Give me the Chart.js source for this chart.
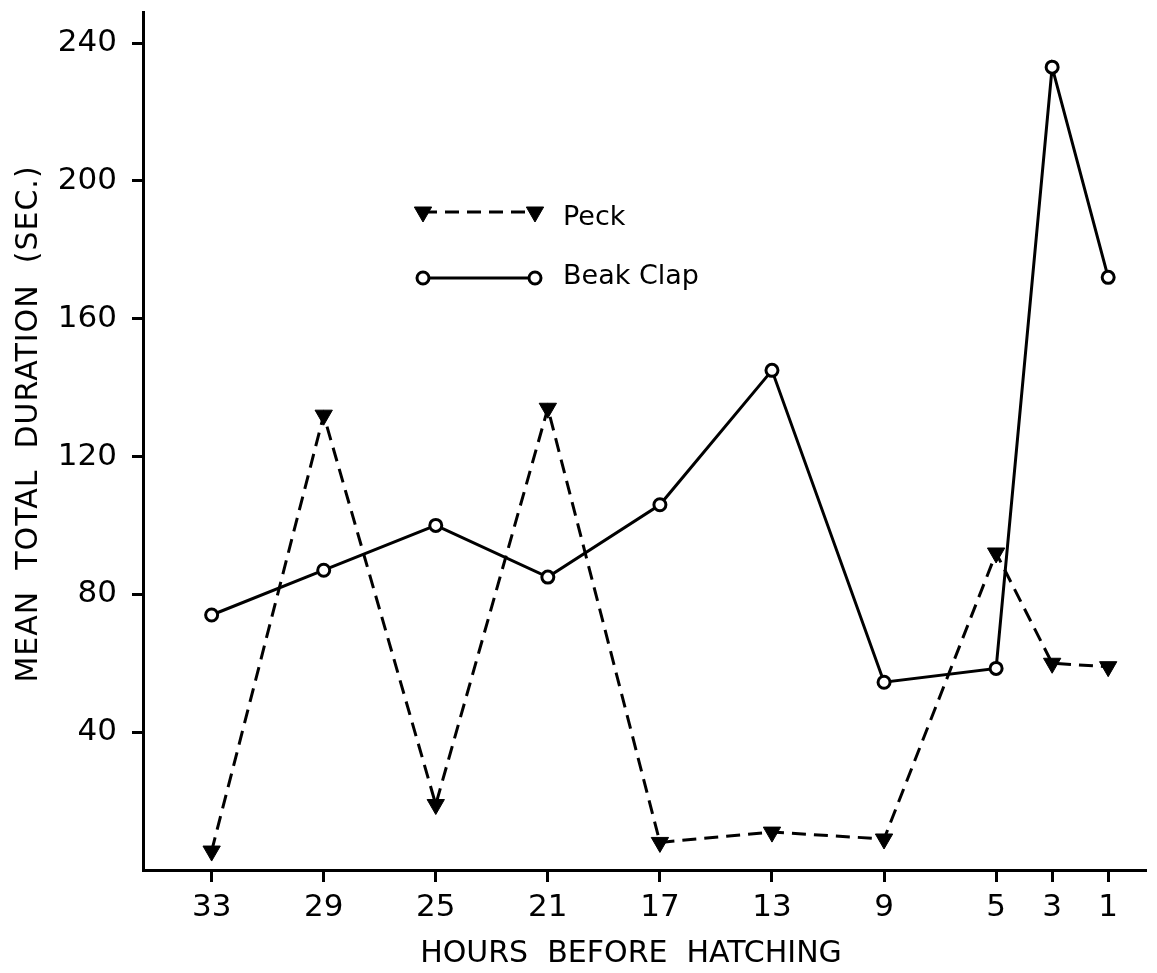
<!DOCTYPE html>
<html>
<head>
<meta charset="utf-8">
<script src="https://cdn.jsdelivr.net/npm/chart.js@4.4.1/dist/chart.umd.min.js"></script>
<style>
  html, body { margin: 0; padding: 0; background: #fff; }
  #wrap { width: 1157px; height: 973px; position: relative; }
</style>
</head>
<body>
<div id="wrap"><canvas id="c"></canvas></div>
<script>
// Hours before hatching (x positions are true hour values, axis runs 33 -> 1)
const hours = [33, 29, 25, 21, 17, 13, 9, 5, 3, 1];
// Mean total duration in seconds
const peck = [5.5, 132, 19, 134, 8, 11, 9, 92, 60, 59];
const beakClap = [74, 87, 100, 85, 106, 145, 54.5, 58.5, 233, 172];
// Labelled y ticks
const yTicks = [40, 80, 120, 160, 200, 240];
const seriesNames = ['Peck', 'Beak Clap'];
const xTitle = 'HOURS  BEFORE  HATCHING';
const yTitle = 'MEAN  TOTAL  DURATION  (SEC.)';

const FONT = '"DejaVu Sans", "Liberation Sans", sans-serif';
const INK = '#000';

function toPoints(values) {
  return hours.map((h, i) => ({ x: h, y: values[i] }));
}

// Axis titles and the inset key, drawn on top of the plot
const overlay = {
  id: 'overlay',
  afterDraw(chart) {
    const ctx = chart.ctx;
    ctx.save();
    ctx.fillStyle = INK;
    ctx.strokeStyle = INK;

    // axis titles
    ctx.font = '30px ' + FONT;
    ctx.textAlign = 'center';
    ctx.textBaseline = 'alphabetic';
    ctx.letterSpacing = '0px';
    ctx.fillText(xTitle, 631, 962);
    ctx.save();
    ctx.letterSpacing = '1px';
    ctx.translate(37, 424);
    ctx.rotate(-Math.PI / 2);
    ctx.fillText(yTitle, 0, 0);
    ctx.restore();

    // key: a short sample of each series with its markers
    const rows = [{ y: 212, base: 225 }, { y: 278, base: 284 }];
    chart.data.datasets.forEach((ds, i) => {
      const r = rows[i];
      const x0 = 423, x1 = 535;
      ctx.save();
      ctx.lineWidth = ds.borderWidth;
      ctx.setLineDash(ds.borderDash || []);
      ctx.beginPath();
      ctx.moveTo(x0, r.y);
      ctx.lineTo(x1, r.y);
      ctx.stroke();
      ctx.restore();
      [x0, x1].forEach(px => {
        ctx.save();
        ctx.fillStyle = ds.pointBackgroundColor;
        ctx.strokeStyle = ds.pointBorderColor;
        ctx.lineWidth = ds.pointBorderWidth;
        ctx.setLineDash([]);
        Chart.helpers.drawPoint(ctx, {
          pointStyle: ds.pointStyle,
          rotation: ds.pointRotation || 0,
          radius: ds.pointRadius,
          borderWidth: ds.pointBorderWidth
        }, px, r.y);
        ctx.restore();
      });
      ctx.font = '27px ' + FONT;
      ctx.textAlign = 'left';
      ctx.textBaseline = 'alphabetic';
      ctx.fillStyle = INK;
      ctx.fillText(ds.label, 563, r.base);
    });
    ctx.restore();
  }
};

const tickFont = { family: FONT, size: 31 };

new Chart(document.getElementById('c'), {
  type: 'line',
  data: {
    datasets: [
      {
        label: seriesNames[0],
        data: toPoints(peck),
        borderColor: INK,
        borderWidth: 3,
        borderDash: [14, 8],
        pointStyle: 'triangle',
        pointRotation: 180,
        pointRadius: 10,
        pointBackgroundColor: INK,
        pointBorderColor: INK,
        pointBorderWidth: 1,
        tension: 0,
        clip: false
      },
      {
        label: seriesNames[1],
        data: toPoints(beakClap),
        borderColor: INK,
        borderWidth: 3,
        pointStyle: 'circle',
        pointRadius: 6,
        pointBackgroundColor: '#fff',
        pointBorderColor: INK,
        pointBorderWidth: 3,
        tension: 0,
        clip: false
      }
    ]
  },
  options: {
    responsive: true,
    maintainAspectRatio: false,
    animation: false,
    layout: { padding: { top: 12, right: 4, left: 0, bottom: 0 } },
    plugins: { legend: { display: false }, tooltip: { enabled: false } },
    scales: {
      x: {
        type: 'linear',
        reverse: true,
        min: -0.35,
        max: 35.45,
        afterBuildTicks: s => { s.ticks = hours.map(v => ({ value: v })); },
        ticks: { autoSkip: false, maxRotation: 0, font: tickFont, color: INK, padding: 7 },
        grid: { display: true, drawOnChartArea: false, drawTicks: true, tickLength: 12, tickWidth: 3, tickColor: INK },
        border: { display: true, color: INK, width: 3 },
        afterFit: s => { s.height = 103; s.paddingLeft = 0; s.paddingRight = 0; }
      },
      y: {
        type: 'linear',
        min: 0,
        max: 249,
        afterBuildTicks: s => { s.ticks = yTicks.map(v => ({ value: v })); },
        ticks: { font: tickFont, color: INK, padding: 15 },
        grid: { display: true, drawOnChartArea: false, drawTicks: true, tickLength: 11, tickWidth: 3, tickColor: INK },
        border: { display: true, color: INK, width: 3 },
        afterFit: s => { s.width = 143; s.paddingTop = 0; s.paddingBottom = 0; }
      }
    }
  },
  plugins: [overlay]
});
</script>
</body>
</html>
